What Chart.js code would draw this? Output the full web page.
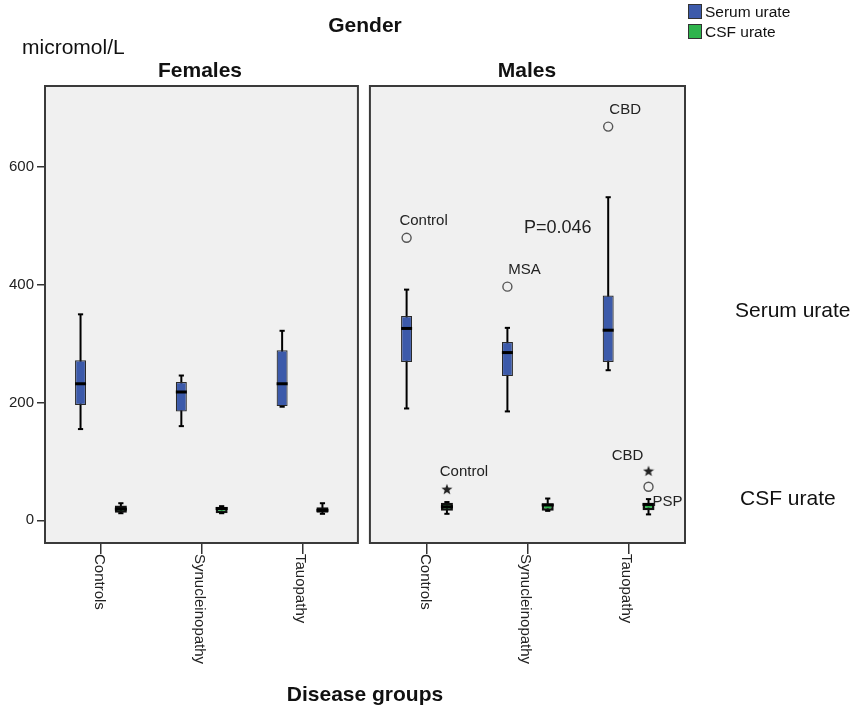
<!DOCTYPE html>
<html><head><meta charset="utf-8">
<script src="https://cdn.jsdelivr.net/npm/chart.js@4/dist/chart.umd.min.js"></script>
<style>
html,body{margin:0;padding:0;background:#fff;}
#wrap{position:relative;width:855px;height:707px;overflow:hidden;font-family:"Liberation Sans",Arial,sans-serif;color:#111;}
canvas{position:absolute;left:0;top:0;}
.t{position:absolute;white-space:nowrap;line-height:1;}
.c{transform:translate(-50%,-50%);}
.l{transform:translate(0,-50%);}
.b{font-weight:bold;}
.sw{position:absolute;width:12px;height:13px;border:1px solid #333;}
</style></head><body>
<div id="wrap">
<canvas id="c" width="855" height="707"></canvas>
<div class="t c b" style="left:365px;top:24px;font-size:21px">Gender</div>
<div class="t l" style="left:22px;top:46px;font-size:21px">micromol/L</div>
<div class="t c b" id="pf" style="left:200px;top:69px;font-size:21px"></div>
<div class="t c b" id="pm" style="left:527px;top:69px;font-size:21px"></div>
<div class="t c b" style="left:365px;top:693px;font-size:21px">Disease groups</div>
<div class="t l" style="left:735px;top:309px;font-size:21px">Serum urate</div>
<div class="t l" style="left:740px;top:497px;font-size:21px">CSF urate</div>
<div class="sw" style="left:688px;top:4px;background:#3C5AAA"></div>
<div class="t l" style="left:705px;top:12px;font-size:15.5px">Serum urate</div>
<div class="sw" style="left:688px;top:24px;background:#2EB34C"></div>
<div class="t l" style="left:705px;top:32px;font-size:15.5px">CSF urate</div>
</div>
<script>
// ---- data ----
const categories = ['Controls', 'Synucleinopathy', 'Tauopathy'];
const panels = ['Females', 'Males'];
const yTicks = [0, 200, 400, 600];
// five-number summaries per category: [min, q1, median, q3, max]
const serumFemales = [[155, 196, 232, 272, 350], [160, 185, 218, 235, 246], [193, 194, 232, 289, 322]];
const serumMales   = [[190, 269, 326, 347, 392], [185, 245, 285, 303, 327], [255, 269, 323, 382, 549]];
const csfFemales   = [[12, 13, 19, 25, 29], [12, 12, 20, 23, 24], [11, 13, 17, 22, 29]];
const csfMales     = [[11, 16, 23, 30, 31], [16, 16, 26, 29, 37], [10, 17, 27, 29, 36]];
// outliers (Males panel)
const serumOutliersMales = [
  {cat: 0, value: 480, symbol: 'circle', label: 'Control', anchor: 'ne'},
  {cat: 1, value: 397, symbol: 'circle', label: 'MSA', anchor: 'ne'},
  {cat: 2, value: 669, symbol: 'circle', label: 'CBD', anchor: 'ne'}
];
const csfOutliersMales = [
  {cat: 0, value: 53, symbol: 'star', label: 'Control', anchor: 'ne'},
  {cat: 2, value: 57, symbol: 'circle', label: '', anchor: 'ne'},
  {cat: 2, value: 84, symbol: 'star', label: 'CBD', anchor: 'nw'}
];
const annotations = [
  {panel: 1, cat: 2, series: 'csf', value: 31, text: 'PSP', anchor: 'e', size: 15},
  {panel: 1, cat: 1.3, series: null, value: 497, text: 'P=0.046', anchor: 'c', size: 18}
];

document.getElementById('pf').textContent = panels[0];
document.getElementById('pm').textContent = panels[1];

// ---- layout helpers (positions in x-scale units) ----
const X_MIN = 0.4474, X_MAX = 6.797;
const panelRanges = [[0.4474, 3.552], [3.671, 6.797]];
const panelStart = [1, 4.235];
const seriesOffset = {serum: -0.2, csf: 0.2, null: 0};
function xPos(panel, cat, series) { return panelStart[panel] + cat + (series ? seriesOffset[series] : 0); }

const SERUM = '#3C5AAA', CSF = '#2EB34C';

function starImage() {
  const c = document.createElement('canvas');
  c.width = 12; c.height = 12;
  const g = c.getContext('2d');
  g.fillStyle = '#222';
  g.beginPath();
  for (let i = 0; i < 10; i++) {
    const r = i % 2 === 0 ? 5.8 : 2.4;
    const a = -Math.PI / 2 + i * Math.PI / 5;
    const px = 6 + r * Math.cos(a), py = 6.5 + r * Math.sin(a);
    if (i === 0) g.moveTo(px, py); else g.lineTo(px, py);
  }
  g.closePath(); g.fill();
  return c;
}
const STAR = starImage();

const datasets = [];
const groups = [
  {panel: 0, series: 'serum', stats: serumFemales},
  {panel: 1, series: 'serum', stats: serumMales},
  {panel: 0, series: 'csf', stats: csfFemales},
  {panel: 1, series: 'csf', stats: csfMales}
];
const whiskers = [], boxesS = [], boxesC = [], capsS = [], capsC = [], medS = [], medC = [];
groups.forEach(g => {
  g.stats.forEach((s, cat) => {
    const x = xPos(g.panel, cat, g.series);
    whiskers.push({x, y: [s[0], s[4]]});
    (g.series === 'serum' ? boxesS : boxesC).push({x, y: [s[1], s[3]]});
    (g.series === 'serum' ? capsS : capsC).push({x, y: s[0]}, {x, y: s[4]});
    (g.series === 'serum' ? medS : medC).push({x, y: s[2]});
  });
});
datasets.push({type: 'bar', data: whiskers, backgroundColor: '#000', borderWidth: 0, grouped: false, maxBarThickness: 2, order: 10});
datasets.push({type: 'bar', data: boxesS, backgroundColor: SERUM, borderColor: '#2a2a2a', borderWidth: 1.2, borderSkipped: false, grouped: false, maxBarThickness: 11, order: 5});
datasets.push({type: 'bar', data: boxesC, backgroundColor: CSF, borderColor: '#111', borderWidth: 2.5, borderSkipped: false, grouped: false, maxBarThickness: 12, order: 5});
datasets.push({type: 'scatter', data: capsS.concat(capsC), pointStyle: 'line', radius: 2.6, borderColor: '#000', borderWidth: 2, order: 2});
datasets.push({type: 'scatter', data: medS, pointStyle: 'line', radius: 5.5, borderColor: '#000', borderWidth: 3, order: 1});
datasets.push({type: 'scatter', data: medC, pointStyle: 'line', radius: 6, borderColor: '#000', borderWidth: 3, order: 1});

const allOutliers = serumOutliersMales.map(o => Object.assign({series: 'serum'}, o))
  .concat(csfOutliersMales.map(o => Object.assign({series: 'csf'}, o)));
datasets.push({type: 'scatter', order: 0,
  data: allOutliers.filter(o => o.symbol === 'circle').map(o => ({x: xPos(1, o.cat, o.series), y: o.value})),
  pointStyle: 'circle', radius: 4.5, borderColor: '#555', borderWidth: 1.4, backgroundColor: 'rgba(0,0,0,0)'});
datasets.push({type: 'scatter', order: 0,
  data: allOutliers.filter(o => o.symbol === 'star').map(o => ({x: xPos(1, o.cat, o.series), y: o.value})),
  pointStyle: STAR, radius: 6});
datasets.forEach(d => { if (d.type === 'scatter') { d.pointHoverRadius = d.radius; } });

const xTickValues = [];
panels.forEach((p, pi) => categories.forEach((c, ci) => xTickValues.push({value: xPos(pi, ci, null), label: c})));

const panelPlugin = {
  id: 'panels',
  beforeDraw(chart) {
    const {ctx, chartArea, scales: {x}} = chart;
    ctx.save();
    ctx.fillStyle = '#F0F0F0';
    panelRanges.forEach(r => {
      const l = x.getPixelForValue(r[0]), rr = x.getPixelForValue(r[1]);
      ctx.fillRect(l, chartArea.top, rr - l, chartArea.bottom - chartArea.top);
    });
    ctx.restore();
  },
  afterDraw(chart) {
    const {ctx, chartArea, scales: {x, y}} = chart;
    ctx.save();
    ctx.strokeStyle = '#3a3a3a';
    ctx.lineWidth = 2;
    panelRanges.forEach(r => {
      const l = x.getPixelForValue(r[0]), rr = x.getPixelForValue(r[1]);
      ctx.strokeRect(l, chartArea.top, rr - l, chartArea.bottom - chartArea.top);
    });
    // rotated category labels
    ctx.fillStyle = '#222';
    ctx.font = '15px "Liberation Sans", Arial, sans-serif';
    ctx.textAlign = 'left';
    ctx.textBaseline = 'middle';
    xTickValues.forEach(t => {
      ctx.save();
      ctx.translate(x.getPixelForValue(t.value) - 2, chartArea.bottom + 11);
      ctx.rotate(Math.PI / 2);
      ctx.fillText(t.label, 0, 0);
      ctx.restore();
    });
    // outlier labels
    const place = (px, py, anchor, text, size) => {
      ctx.font = size + 'px "Liberation Sans", Arial, sans-serif';
      if (anchor === 'ne') { ctx.textAlign = 'center'; ctx.fillText(text, px + 17, py - 17); }
      else if (anchor === 'nw') { ctx.textAlign = 'center'; ctx.fillText(text, px - 21, py - 15); }
      else if (anchor === 'e') { ctx.textAlign = 'left'; ctx.fillText(text, px + 4, py); }
      else { ctx.textAlign = 'center'; ctx.fillText(text, px, py); }
    };
    allOutliers.forEach(o => {
      if (!o.label) return;
      place(x.getPixelForValue(xPos(1, o.cat, o.series)), y.getPixelForValue(o.value), o.anchor, o.label, 15);
    });
    annotations.forEach(a => {
      place(x.getPixelForValue(xPos(a.panel, a.cat, a.series)), y.getPixelForValue(a.value), a.anchor, a.text, a.size);
    });
    ctx.restore();
  }
};

new Chart(document.getElementById('c'), {
  type: 'bar',
  data: {datasets},
  plugins: [panelPlugin],
  options: {
    responsive: false,
    animation: false,
    devicePixelRatio: 1,
    events: [],
    layout: {padding: {top: 86, right: 170, bottom: 0, left: 0}},
    plugins: {legend: {display: false}, tooltip: {enabled: false}, title: {display: false}},
    scales: {
      x: {
        type: 'linear', min: X_MIN, max: X_MAX, offset: false,
        border: {display: false},
        grid: {offset: false, drawOnChartArea: false, drawTicks: true, tickLength: 11, color: '#333', lineWidth: 1.5},
        ticks: {display: false, includeBounds: false},
        afterBuildTicks: s => { s.ticks = xTickValues.map(t => ({value: t.value})); },
        afterFit: s => { s.height = 164; }
      },
      y: {
        type: 'linear', min: -38.6, max: 738,
        border: {display: false},
        grid: {drawOnChartArea: false, drawTicks: true, tickLength: 8, color: '#333', lineWidth: 1.5},
        ticks: {includeBounds: false, color: '#222', padding: 3, font: {family: '"Liberation Sans", Arial, sans-serif', size: 15}},
        afterBuildTicks: s => { s.ticks = yTicks.map(v => ({value: v})); },
        afterFit: s => { s.width = 45; }
      }
    }
  }
});
</script>
</body></html>
